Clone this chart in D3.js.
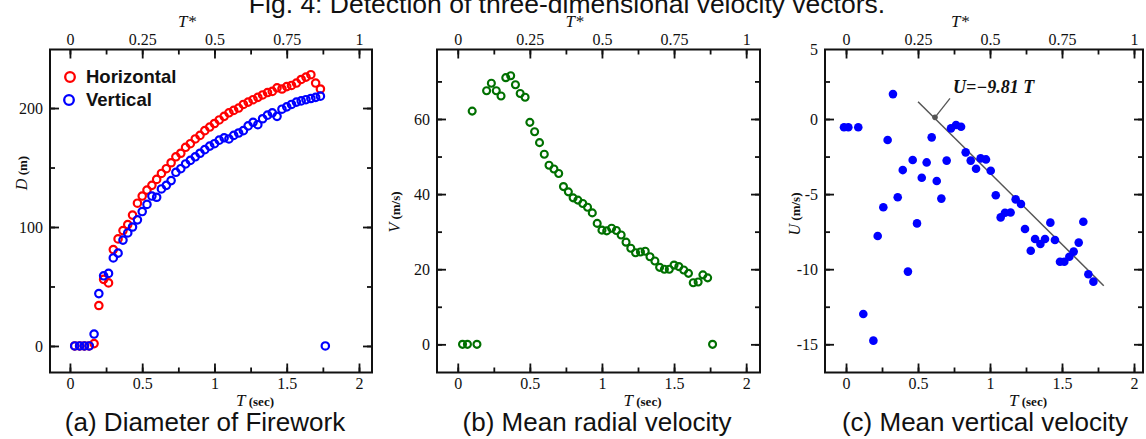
<!DOCTYPE html>
<html>
<head>
<meta charset="utf-8">
<script src="https://cdn.jsdelivr.net/npm/d3@7"></script>
<style>
  body { margin: 0; background: #fff; }
  svg { display: block; }
  .tick text { font-family: "Liberation Serif", "Times New Roman", serif; font-size: 16px; fill: #111; }
  .tick line { stroke: #111; stroke-width: 1.8; }
</style>
</head>
<body>
<svg id="chart" width="1146" height="439"></svg>
<script>
// ---- data ----
const tA = [0.033,0.067,0.100,0.133,0.167,0.200,0.233,0.267,0.300,0.333,0.367,0.400,0.433,0.467,0.500,0.533,0.567,0.600,0.633,0.667,
  0.700,0.733,0.767,0.800,0.833,0.867,0.900,0.933,0.967,1.000,1.033,1.067,1.100,1.133,1.167,1.200,1.233,1.267,1.300,1.333,
  1.367,1.400,1.433,1.467,1.500,1.533,1.567,1.600,1.633,1.667,1.700,1.733,1.767];
const horizontal = [0,0,0,0,2,34,56,53,81,90,97,102,110,120,126,131,135,140,145,149,
  154,159,162,167,170,174,177,181,184,187,190,193,196,198,200,203,205,207,209,211,
  213,214,217,216,218,219,221,224,226,228,221,216,null];
const vertical = [0,0,0,0,10,44,59,61,74,78,89,95,100,106,113,119,126,125,132,135,
  139,146,149,153,156,159,162,165,168,170,173,175,174,177,179,181,185,188,186,191,
  194,196,193,199,201,203,205,206,207,208,209,210,0];

const tB = [0.033,0.067,0.100,0.133,0.200,0.233,0.267,0.300,0.333,0.367,0.400,0.433,0.467,0.500,0.533,0.567,0.600,0.633,0.667,
  0.700,0.733,0.767,0.800,0.833,0.867,0.900,0.933,0.967,1.000,1.033,1.067,1.100,1.133,1.167,1.200,1.233,1.267,1.300,1.333,
  1.367,1.400,1.433,1.467,1.500,1.533,1.567,1.600,1.633,1.667,1.700,1.733,1.767];
const radialV = [0,0,62.1,0,67.5,69.5,67.5,66.1,71.0,71.5,69.1,66.8,65.8,59.1,56.6,53.7,50.6,47.7,46.7,
  45.5,42.0,40.6,39.0,38.4,37.5,36.5,35.0,32.2,30.4,30.2,30.9,30.3,29.1,27.2,25.6,24.4,24.6,24.8,23.3,
  22.2,20.5,20.0,20.0,21.1,20.7,19.8,18.9,16.4,16.6,18.5,17.7,0];

const tC = [-0.014,0.016,0.085,0.120,0.190,0.220,0.259,0.289,0.326,0.359,0.394,0.430,0.463,0.493,0.526,0.560,0.595,
  0.630,0.662,0.699,0.729,0.764,0.799,0.831,0.866,0.903,0.935,0.972,1.005,1.040,1.074,1.104,1.143,1.178,1.215,
  1.243,1.283,1.313,1.350,1.382,1.419,1.451,1.486,1.516,1.551,1.581,1.616,1.648,1.683,1.718];
const verticalU = [-0.55,-0.55,-0.55,-12.98,-14.76,-7.79,-5.88,-1.40,1.66,-5.21,-3.40,-10.16,-2.73,-6.95,-3.91,-2.89,-1.22,
  -4.13,-5.30,-2.77,-0.62,-0.40,-0.51,-2.22,-2.77,-3.31,-2.62,-2.69,-3.44,-5.08,-6.55,-6.24,-6.22,-5.35,-5.66,
  -7.32,-8.77,-7.99,-8.32,-7.99,-6.90,-8.06,-9.50,-9.50,-9.17,-8.83,-8.23,-6.84,-10.34,-10.83];
const fitT = [0.50, 1.79];
const fitU = [1.15, -11.1];
const fitMark = [0.618, 0.11];

const xTicks = [0, 0.5, 1, 1.5, 2];
const tStarTicks = [0, 0.25, 0.5, 0.75, 1];
const yTicksA = [0, 100, 200];
const yTicksB = [0, 20, 40, 60];
const yTicksC = [-15, -10, -5, 0, 5];
const legendNames = ["Horizontal", "Vertical"];
const captions = ["(a) Diameter of Firework", "(b) Mean radial velocity", "(c) Mean vertical velocity"];
const title = "Fig. 4: Detection of three-dimensional velocity vectors.";

const svg = d3.select("#chart");
const serif = "'Liberation Serif','Times New Roman',serif";
const sans = "'Liberation Sans',Arial,sans-serif";
const fmt = d => String(d);

function panel(cfg) {
  const x = d3.scaleLinear().domain(cfg.xDomain).range([cfg.left, cfg.right]);
  const y = d3.scaleLinear().domain(cfg.yDomain).range([cfg.bottom, cfg.top]);
  const xs = d3.scaleLinear().domain(cfg.xDomain.map(d => d / 2)).range([cfg.left, cfg.right]);
  const g = svg.append("g");

  // minor ticks
  const minX = d3.range(0, 2.01, 0.25);
  const minY = cfg.yMinor;
  g.append("g").attr("transform", `translate(0,${cfg.bottom})`)
    .call(d3.axisBottom(x).tickValues(minX).tickSize(-5).tickFormat(""));
  g.append("g").attr("transform", `translate(0,${cfg.top})`)
    .call(d3.axisTop(x).tickValues(minX).tickSize(-5).tickFormat(""));
  g.append("g").attr("transform", `translate(${cfg.left},0)`)
    .call(d3.axisLeft(y).tickValues(minY).tickSize(-5).tickFormat(""));
  g.append("g").attr("transform", `translate(${cfg.right},0)`)
    .call(d3.axisRight(y).tickValues(minY).tickSize(-5).tickFormat(""));

  // major ticks
  g.append("g").attr("transform", `translate(0,${cfg.bottom})`)
    .call(d3.axisBottom(x).tickValues(xTicks).tickSize(-9).tickPadding(5).tickFormat(fmt));
  g.append("g").attr("transform", `translate(0,${cfg.top})`)
    .call(d3.axisTop(xs).tickValues(tStarTicks).tickSize(-9).tickPadding(5).tickFormat(fmt));
  const yl = g.append("g").attr("transform", `translate(${cfg.left},0)`)
    .call(d3.axisLeft(y).tickValues(cfg.yTicks).tickSize(-9).tickPadding(7).tickFormat(fmt));
  g.append("g").attr("transform", `translate(${cfg.right},0)`)
    .call(d3.axisRight(y).tickValues(cfg.yTicks.filter(v => y(v) >= cfg.top)).tickSize(-9).tickFormat(""));
  // a label above the domain is pinned to the frame top
  yl.selectAll(".tick").filter(v => y(v) < cfg.top)
    .attr("transform", `translate(0,${cfg.top})`)
    .select("line").remove();

  g.selectAll(".domain").remove();

  g.append("rect")
    .attr("x", cfg.left).attr("y", cfg.top)
    .attr("width", cfg.right - cfg.left).attr("height", cfg.bottom - cfg.top)
    .attr("fill", "none").attr("stroke", "#111").attr("stroke-width", 2);

  // axis titles
  const mid = (cfg.left + cfg.right) / 2;
  const tx = g.append("text").attr("x", mid + 44).attr("y", cfg.bottom + 33)
    .attr("text-anchor", "middle").attr("font-family", serif).attr("fill", "#111");
  tx.append("tspan").attr("font-style", "italic").attr("font-size", 17).text("T");
  tx.append("tspan").attr("font-weight", "bold").attr("font-size", 13).text(" (sec)");

  g.append("text").attr("x", mid - 24).attr("y", cfg.top - 23)
    .attr("text-anchor", "middle").attr("font-family", serif).attr("font-style", "italic")
    .attr("font-size", 17).attr("fill", "#111").text("T*");

  const ty = g.append("text")
    .attr("transform", `translate(${cfg.yLabelX},${cfg.yLabelY}) rotate(-90)`)
    .attr("text-anchor", "middle").attr("font-family", serif).attr("fill", "#111");
  ty.append("tspan").attr("font-style", "italic").attr("font-size", 16).text(cfg.yVar);
  ty.append("tspan").attr("font-weight", "bold").attr("font-size", 13).text(" " + cfg.yUnit);

  g.append("text").attr("x", cfg.captionX).attr("y", 431)
    .attr("text-anchor", "middle").attr("font-family", sans).attr("font-size", 26)
    .attr("fill", "#111").text(cfg.caption);

  return { g, x, y };
}

// title (clipped by the top edge, as in the source)
svg.append("text").attr("x", 567).attr("y", 13).attr("text-anchor", "middle")
  .attr("font-family", sans).attr("font-size", 26.5).attr("fill", "#111").text(title);

// ---- (a) ----
const pa = panel({
  left: 50, right: 372, top: 49.5, bottom: 372.5,
  xDomain: [-0.138, 2.09], yDomain: [-22.3, 249.2],
  yTicks: yTicksA, yMinor: d3.range(0, 250, 50),
  yVar: "D", yUnit: "(m)", yLabelX: 27, yLabelY: 173,
  caption: captions[0], captionX: 205
});
const ptsA = (vals) => tA.map((t, i) => ({ t, v: vals[i] })).filter(d => d.v != null);
pa.g.selectAll(".hz").data(ptsA(horizontal)).enter().append("circle")
  .attr("cx", d => pa.x(d.t)).attr("cy", d => pa.y(d.v)).attr("r", 3.7)
  .attr("fill", "none").attr("stroke", "#ff0000").attr("stroke-width", 2.2);
pa.g.selectAll(".vt").data(ptsA(vertical)).enter().append("circle")
  .attr("cx", d => pa.x(d.t)).attr("cy", d => pa.y(d.v)).attr("r", 3.7)
  .attr("fill", "none").attr("stroke", "#0000ff").attr("stroke-width", 2.2);

const legColors = ["#ff0000", "#0000ff"];
legendNames.forEach((name, i) => {
  const ly = 77 + i * 23;
  pa.g.append("circle").attr("cx", 70 - i).attr("cy", ly).attr("r", 4.8)
    .attr("fill", "none").attr("stroke", legColors[i]).attr("stroke-width", 2.3);
  pa.g.append("text").attr("x", 86).attr("y", ly + 6).attr("font-family", sans)
    .attr("font-weight", "bold").attr("font-size", 18.5).attr("fill", "#111").text(name);
});

// ---- (b) ----
const pb = panel({
  left: 437, right: 760, top: 49.5, bottom: 372.5,
  xDomain: [-0.144, 2.096], yDomain: [-7.5, 78.5],
  yTicks: yTicksB, yMinor: d3.range(0, 80, 10),
  yVar: "V", yUnit: "(m/s)", yLabelX: 400, yLabelY: 212,
  caption: captions[1], captionX: 597
});
pb.g.selectAll(".rv").data(tB.map((t, i) => ({ t, v: radialV[i] }))).enter().append("circle")
  .attr("cx", d => pb.x(d.t)).attr("cy", d => pb.y(d.v)).attr("r", 3.5)
  .attr("fill", "none").attr("stroke", "#007000").attr("stroke-width", 2.1);

// ---- (c) ----
const pc = panel({
  left: 825, right: 1143, top: 49.5, bottom: 372.5,
  xDomain: [-0.146, 2.0625], yDomain: [-16.88, 4.63],
  yTicks: yTicksC, yMinor: d3.range(-15, 4.6, 2.5),
  yVar: "U", yUnit: "(m/s)", yLabelX: 800, yLabelY: 214,
  caption: captions[2], captionX: 985
});
pc.g.append("line")
  .attr("x1", pc.x(fitT[0])).attr("y1", pc.y(fitU[0]))
  .attr("x2", pc.x(fitT[1])).attr("y2", pc.y(fitU[1]))
  .attr("stroke", "#555").attr("stroke-width", 1.5);
pc.g.selectAll(".vu").data(tC.map((t, i) => ({ t, v: verticalU[i] }))).enter().append("circle")
  .attr("cx", d => pc.x(d.t)).attr("cy", d => pc.y(d.v)).attr("r", 4.3)
  .attr("fill", "#0000ff");
const mx = pc.x(fitMark[0]), my = pc.y(fitMark[1]);
pc.g.append("circle").attr("cx", mx).attr("cy", my).attr("r", 2.8).attr("fill", "#555");
pc.g.append("line").attr("x1", mx).attr("y1", my).attr("x2", mx + 15).attr("y2", my - 19)
  .attr("stroke", "#555").attr("stroke-width", 1.3);
pc.g.append("text").attr("x", mx + 18).attr("y", my - 24)
  .attr("font-family", serif).attr("font-style", "italic").attr("font-weight", "bold")
  .attr("font-size", 18).attr("fill", "#111").text("U=\u22129.81 T");
</script>
</body>
</html>
